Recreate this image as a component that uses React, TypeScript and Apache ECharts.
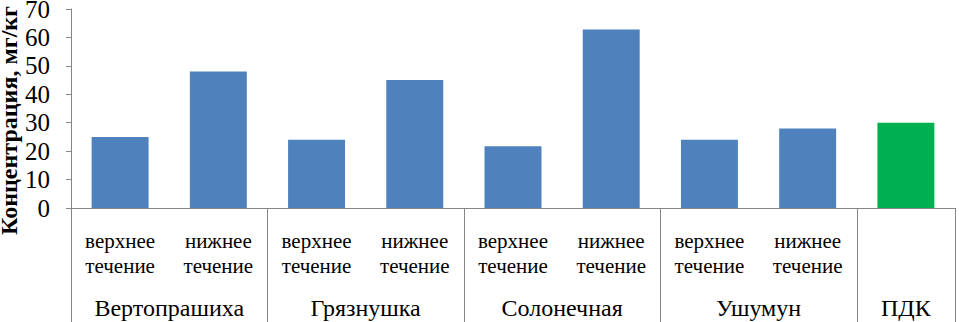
import React, { useEffect, useRef } from "react";
import * as echarts from "echarts";

const subCategories = [
  "верхнее\nтечение",
  "нижнее\nтечение",
  "верхнее\nтечение",
  "нижнее\nтечение",
  "верхнее\nтечение",
  "нижнее\nтечение",
  "верхнее\nтечение",
  "нижнее\nтечение",
  "",
];
const groupNames = ["Вертопрашиха", "Грязнушка", "Солонечная", "Ушумун", "ПДК"];
const groupCenters = [1, 3, 5, 7, 8.5];
const groupBounds = [0, 2, 4, 6, 8, 9];
const values = [25, 48, 24, 45, 21.7, 62.8, 24, 28, 30];
const barColors = ["#4F81BD", "#4F81BD", "#4F81BD", "#4F81BD", "#4F81BD", "#4F81BD", "#4F81BD", "#4F81BD", "#00B050"];
const yTicks = { min: 0, max: 70, interval: 10 };

const FONT = "Liberation Serif";
const AXIS = "#868686";

export default function App() {
  const ref = useRef<HTMLDivElement>(null);
  useEffect(() => {
    if (!ref.current) return;
    const chart = echarts.init(ref.current, undefined, { renderer: "svg" });
    chart.setOption({
      animation: false,
      backgroundColor: "#ffffff",
      textStyle: { fontFamily: FONT },
      grid: { left: 71, right: 4, top: 9, bottom: 114, containLabel: false, outerBoundsMode: "none" },
      xAxis: [
        {
          type: "category",
          data: subCategories,
          axisLine: { show: true, lineStyle: { color: AXIS, width: 1 } },
          axisTick: { show: false },
          axisLabel: {
            color: "#000",
            fontFamily: FONT,
            fontSize: 21,
            lineHeight: 25,
            margin: 20,
            interval: 0,
          },
        },
        {
          type: "value",
          min: 0,
          max: 9,
          position: "bottom",
          axisLine: { show: false },
          splitLine: { show: false },
          axisTick: {
            show: true,
            customValues: groupBounds,
            length: 114,
            lineStyle: { color: AXIS, width: 1 },
          },
          axisLabel: {
            show: true,
            customValues: groupCenters,
            formatter: (v: number) => {
              const i = groupCenters.indexOf(v);
              return i >= 0 ? groupNames[i] : "";
            },
            color: "#000",
            fontFamily: FONT,
            fontSize: 24,
            lineHeight: 25,
            margin: 87,
          },
        },
      ],
      yAxis: {
        type: "value",
        min: yTicks.min,
        max: yTicks.max,
        interval: yTicks.interval,
        name: "Концентрация, мг/кг",
        nameLocation: "middle",
        nameRotate: 90,
        nameGap: 50,
        nameMoveOverlap: false,
        nameTextStyle: {
          color: "#000",
          fontFamily: FONT,
          fontSize: 24,
          fontWeight: "bold",
          padding: [0, 24, 0, 0],
        },
        axisLine: { show: true, lineStyle: { color: AXIS, width: 1 } },
        axisTick: { show: true, length: 5, lineStyle: { color: AXIS } },
        splitLine: { show: false },
        axisLabel: {
          color: "#000",
          fontFamily: FONT,
          fontSize: 25,
          margin: 21,
        },
      },
      series: [
        {
          type: "bar",
          xAxisIndex: 0,
          yAxisIndex: 0,
          barCategoryGap: "42%",
          data: values.map((v, i) => ({ value: v, itemStyle: { color: barColors[i] } })),
        },
      ],
    });
    return () => chart.dispose();
  }, []);
  return (
    <div
      ref={ref}
      style={{ position: "fixed", left: 0, top: 0, width: 959, height: 322, background: "#fff" }}
    />
  );
}
